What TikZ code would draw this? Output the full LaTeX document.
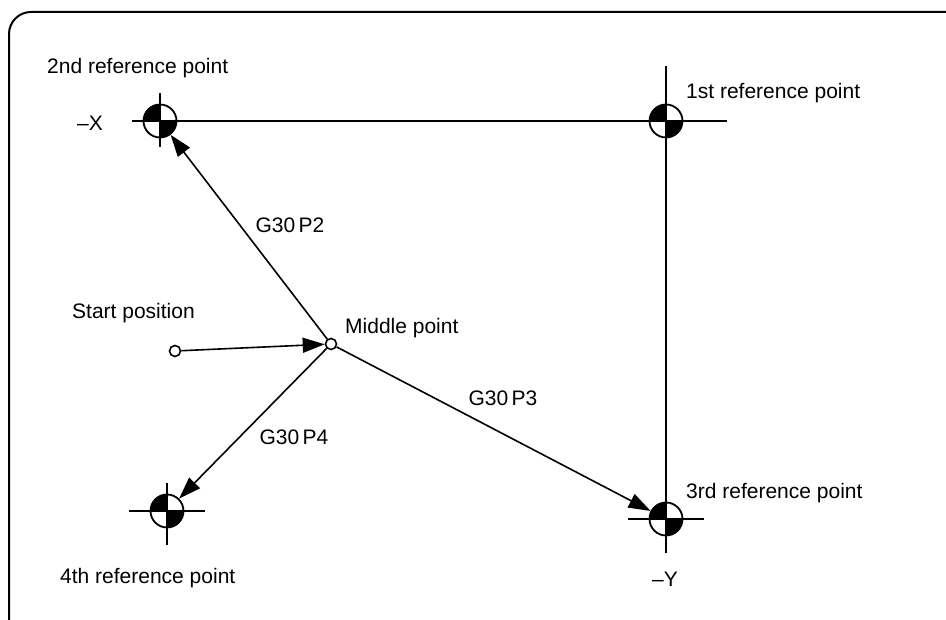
\documentclass[tikz,border=0pt]{standalone}
\usepackage{fontspec}
\setmainfont{Liberation Sans}
\usetikzlibrary{arrows.meta}
\begin{document}
\begin{tikzpicture}[x=1pt,y=1pt,
  refpt/.style={circle,draw,line width=1.8pt,minimum size=33pt,inner sep=0pt},
  smallpt/.style={circle,draw,fill=white,line width=1.6pt,minimum size=11pt,inner sep=0pt},
  axis/.style={line width=1.8pt},
  arr/.style={line width=1.6pt,-{Triangle[length=22pt,width=15pt]}},
  lbl/.style={font=\fontsize{21}{25}\selectfont,inner sep=0pt}]
\useasboundingbox (0,0) rectangle (946,620);
\begin{scope}
\clip (0,0) rectangle (946,620);
\draw[line width=2pt,rounded corners=22pt] (9,-40) rectangle (1000,608);
\end{scope}
% reference point centres
\coordinate (c2) at (160,499);
\coordinate (c1) at (666,499);
\coordinate (c3) at (666,101);
\coordinate (c4) at (167,109);
% cross lines
\draw[axis] ([xshift=-28pt]c2) -- ([xshift=61pt]c1);
\draw[axis] ([yshift=28pt]c2) -- ([yshift=-26pt]c2);
\draw[axis] ([yshift=55pt]c1) -- ([yshift=-34pt]c3);
\draw[axis] ([xshift=-38pt]c3) -- ([xshift=38pt]c3);
\draw[axis] ([xshift=-38pt]c4) -- ([xshift=38pt]c4);
\draw[axis] ([yshift=28pt]c4) -- ([yshift=-34pt]c4);
% quadrant fills
\foreach \c in {c1,c2,c3,c4}{
  \fill (\c) -- ++(-16.5,0) arc[start angle=180,end angle=90,radius=16.5] -- cycle;
  \fill (\c) -- ++(16.5,0) arc[start angle=0,end angle=-90,radius=16.5] -- cycle;
}
\node[refpt] (R1) at (c1) {};
\node[refpt] (R2) at (c2) {};
\node[refpt] (R3) at (c3) {};
\node[refpt] (R4) at (c4) {};
% start and middle points
\node[smallpt] (S) at (175,269) {};
\node[smallpt] (M) at (331,276) {};
\draw[arr] (S) -- (M);
\draw[arr] (M) -- (R2);
\draw[arr] (M) -- (R4);
\draw[arr] (M) -- (R3);
% labels
\node[lbl,anchor=west] (t2) at (47,552) {2nd reference point};
\node[lbl] (tx) at (90,497) {–X};
\node[lbl,anchor=west] (t1) at (686,527) {1st reference point};
\node[lbl] (g2) at (290,395) {G30\,P2};
\node[lbl,anchor=west] (ts) at (72,307) {Start position};
\node[lbl,anchor=west] (tm) at (345,292) {Middle point};
\node[lbl] (g3) at (503,222) {G30\,P3};
\node[lbl] (g4) at (294,183) {G30\,P4};
\node[lbl,anchor=west] (t3) at (686,127) {3rd reference point};
\node[lbl,anchor=west] (t4) at (60,42) {4th reference point};
\node[lbl] (ty) at (665,41) {–Y};
\end{tikzpicture}
\end{document}
